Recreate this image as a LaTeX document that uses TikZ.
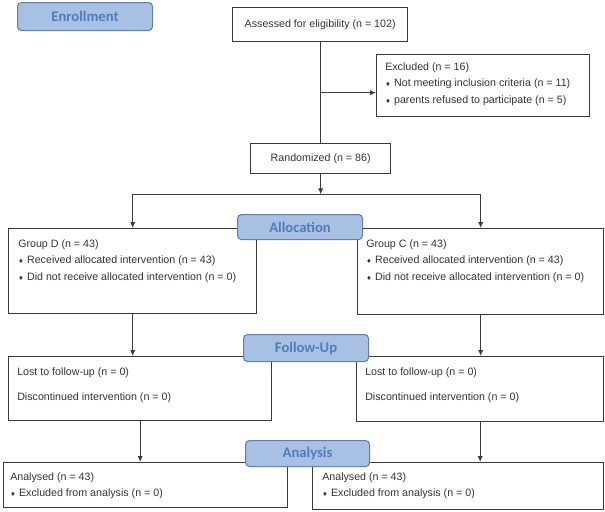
\documentclass[tikz,border=0pt]{standalone}
\usepackage{fontspec}
\setmainfont{Liberation Sans}
\newfontfamily\tabfont{Carlito}
\newfontfamily\symfont{DejaVu Sans}
\usepackage{tikz}
\usetikzlibrary{arrows.meta,calc}
\definecolor{boxline}{HTML}{3A3A3A}
\definecolor{tabfill}{HTML}{A8C0E3}
\definecolor{tabline}{HTML}{6080A8}
\definecolor{tabtext}{HTML}{4F7DBB}
\newdimen\pu
\pu=0.75pt
\newcommand\bul{{\symfont\fontsize{4.5}{4.5}\selectfont ♦}\hspace{2.6pt}}

\begin{document}
\begin{tikzpicture}[x=0.75pt,y=-0.75pt]
	\tikzset{
		box/.style={draw=boxline,line width=1pt,anchor=north west,inner sep=0pt,
			text=black!80,font=\fontsize{8}{12.4}\selectfont},
		txt/.style={anchor=north west,inner sep=0pt,align=left,text=black!80,
			font=\fontsize{8}{12.4}\selectfont},
		tab/.style={draw=tabline,fill=tabfill,line width=0.8pt,rounded corners=3pt,
			anchor=north west,inner sep=0pt,text=tabtext,font=\tabfont\bfseries\fontsize{11}{13}\selectfont},
		arr/.style={draw=boxline,line width=0.8pt,-{Latex[length=4.5pt,width=4pt]}},
		ln/.style={draw=boxline,line width=0.8pt}}
	\useasboundingbox (0,0) rectangle (605,511);
	\node[box,minimum width=175\pu,minimum height=34\pu](assess) at (232,7){Assessed for eligibility (n = 102)};
	\node[box,minimum width=213\pu,minimum height=62\pu](excl) at (376,54){};
	\node[box,minimum width=140\pu,minimum height=30\pu](rand) at (250,143){Randomized (n = 86)};
	\node[box,minimum width=248\pu,minimum height=85\pu](grpD) at (8,228){};
	\node[box,minimum width=246\pu,minimum height=86\pu](grpC) at (357,228){};
	\node[box,minimum width=263\pu,minimum height=64\pu](lostD) at (8,356){};
	\node[box,minimum width=247\pu,minimum height=65\pu](lostC) at (356,356){};
	\node[box,minimum width=284\pu,minimum height=45\pu](anaD) at (3,462){};
	\node[box,minimum width=291\pu,minimum height=47\pu](anaC) at (312,462){};
	\node[txt](excltxt) at ([shift={(9,8)}]excl.north west){Excluded (n = 16)\\
		\bul Not meeting inclusion criteria (n = 11)\\
		\bul parents refused to participate (n = 5)};
	\node[txt](grpDtxt) at ([shift={(10,11)}]grpD.north west){Group D (n = 43)\\
		\bul Received allocated intervention (n = 43)\\
		\bul Did not receive allocated intervention (n = 0)};
	\node[txt](grpCtxt) at ([shift={(9,11)}]grpC.north west){Group C (n = 43)\\
		\bul Received allocated intervention (n = 43)\\
		\bul Did not receive allocated intervention (n = 0)};
	\node[txt](lostDtxt) at ([shift={(9,11)}]lostD.north west){Lost to follow-up (n = 0)\\[7pt]
		Discontinued intervention (n = 0)};
	\node[txt](lostCtxt) at ([shift={(9,11)}]lostC.north west){Lost to follow-up (n = 0)\\[7pt]
		Discontinued intervention (n = 0)};
	\node[txt](anaDtxt) at ([shift={(7,10)}]anaD.north west){Analysed (n = 43)\\
		\bul Excluded from analysis (n = 0)};
	\node[txt](anaCtxt) at ([shift={(10,10)}]anaC.north west){Analysed (n = 43)\\
		\bul Excluded from analysis (n = 0)};
	\node[tab,minimum width=135\pu,minimum height=28\pu](enroll) at (17,2){Enrollment};
	\node[tab,minimum width=125\pu,minimum height=25\pu](alloc) at (237,214){Allocation};
	\node[tab,minimum width=125\pu,minimum height=27\pu](follow) at (243,334){Follow-Up};
	\node[tab,minimum width=124\pu,minimum height=26\pu](analysis) at (245,440){Analysis};
	\coordinate(mid) at ($(assess.south)!0.5!(assess.south |- rand.north)$);
	\coordinate(split) at ($(rand.south)+(0,20)$);
	\draw[ln](assess.south)--(assess.south |- rand.north);
	\draw[arr](mid)--(mid -| excl.west);
	\draw[arr](rand.south)--(split);
	\draw[arr](split)-|(grpD.north);
	\draw[arr](split)-|(grpC.north);
	\draw[arr](grpD.south)--(grpD.south |- lostD.north);
	\draw[arr](grpC.south)--(grpC.south |- lostC.north);
	\draw[arr](lostD.south)--(lostD.south |- anaD.north);
	\draw[arr](lostC.south)--(lostC.south |- anaC.north);
\end{tikzpicture}
\end{document}
